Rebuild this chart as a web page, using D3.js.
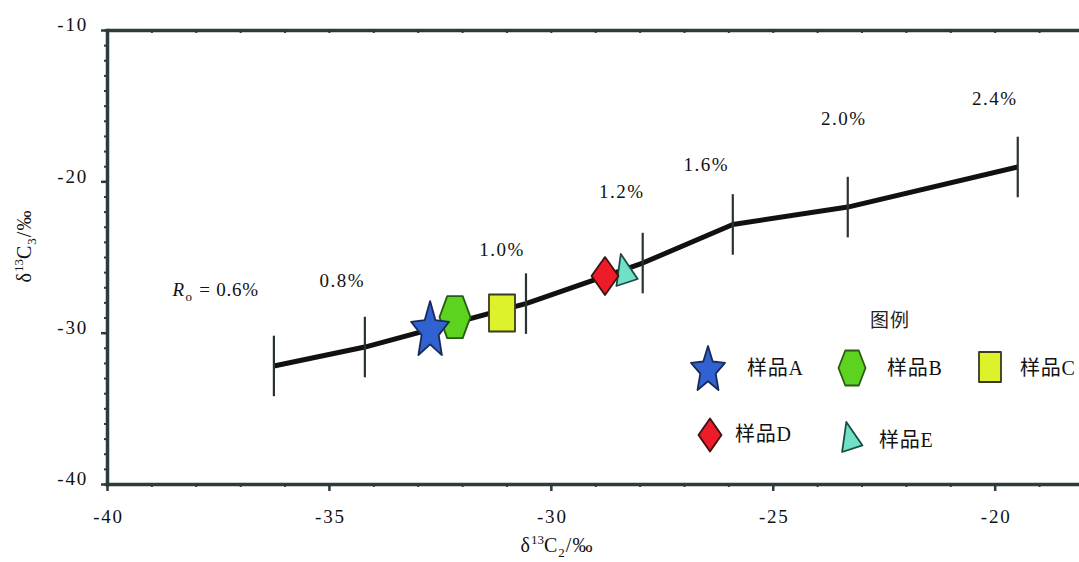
<!DOCTYPE html>
<html>
<head>
<meta charset="utf-8">
<script src="https://cdn.jsdelivr.net/npm/d3@7"></script>
<style>
  body { margin: 0; background: #fff; }
  svg { display: block; }
</style>
</head>
<body>
<script>
// Ro maturity curve (vitrinite reflectance) - points on the curve
const roLabels = ["0.6%", "0.8%", "1.0%", "1.2%", "1.6%", "2.0%", "2.4%"];
const roX = [-36.24, -34.19, -30.56, -27.93, -25.9, -23.31, -19.48];
const roY = [-32.2, -30.95, -28.08, -25.4, -22.85, -21.7, -19.05];
const roErr = [2, 2, 2, 2, 2, 2, 2];
// where the Ro labels sit, in data units
const roLabelX = [-37.55, -34.7, -31.1, -28.4, -26.5, -23.4, -20.0];
const roLabelY = [-27.58, -26.99, -24.94, -21.1, -19.32, -16.28, -14.96];

// samples
const samples = ["样品A", "样品B", "样品C", "样品D", "样品E"];
const sampleX = [-32.72, -32.16, -31.1, -28.78, -28.29];
const sampleY = [-29.7, -28.97, -28.7, -26.26, -25.86];

// axes ticks
const xTicks = [-40, -35, -30, -25, -20];
const yTicks = [-40, -30, -20, -10];

const W = 1079, H = 562;
const serif = "'Liberation Serif','Times New Roman',serif";
const cjk = "'Liberation Serif','Noto Sans CJK SC',serif";
const axisColor = "#2c3b3b";

const svg = d3.select("body").append("svg")
  .attr("width", W)
  .attr("height", H);

const x = d3.scaleLinear().domain([-40, -18.1]).range([107, 1079]);
const y = d3.scaleLinear().domain([-40, -10]).range([484, 30]);

// minor ticks
const xMinor = d3.range(-40, -18, 1);
const yMinor = d3.range(-40, -9, 1);

function styleAxis(g) {
  g.select(".domain").attr("stroke", axisColor).attr("stroke-width", 3.5).attr("stroke-linecap", "square");
  g.selectAll(".tick line").attr("stroke", axisColor).attr("stroke-width", 2.5);
  g.selectAll(".tick text").attr("fill", "#111")
    .style("font-family", serif).style("font-size", "19px").style("letter-spacing", "1.8px");
}

// bottom axis
svg.append("g")
  .attr("transform", "translate(0," + y(-40) + ")")
  .call(d3.axisBottom(x).tickValues(xMinor).tickSize(3).tickSizeOuter(0).tickFormat(""))
  .call(g => g.select(".domain").remove())
  .call(g => g.selectAll(".tick line").attr("stroke", axisColor).attr("stroke-width", 2));
const gx = svg.append("g")
  .attr("transform", "translate(0," + y(-40) + ")")
  .call(d3.axisBottom(x).tickValues(xTicks).tickSize(7).tickSizeOuter(0).tickFormat(d => d));
styleAxis(gx);
gx.selectAll(".tick text").attr("y", 39).attr("dy", null).attr("x", 1);

// left axis
svg.append("g")
  .attr("transform", "translate(" + x(-40) + ",0)")
  .call(d3.axisLeft(y).tickValues(yMinor).tickSize(3).tickSizeOuter(0).tickFormat(""))
  .call(g => g.select(".domain").remove())
  .call(g => g.selectAll(".tick line").attr("stroke", axisColor).attr("stroke-width", 2));
const gy = svg.append("g")
  .attr("transform", "translate(" + x(-40) + ",0)")
  .call(d3.axisLeft(y).tickValues(yTicks).tickSize(6).tickSizeOuter(0).tickFormat(d => d));
styleAxis(gy);
gy.selectAll(".tick text").attr("x", -19).attr("dy", "0.05em");

// top frame line
svg.append("g")
  .attr("transform", "translate(0," + y(-10) + ")")
  .call(d3.axisTop(x).tickValues(xMinor).tickSize(-3).tickSizeOuter(0).tickFormat(""))
  .call(g => g.select(".domain").attr("stroke", axisColor).attr("stroke-width", 3.5))
  .call(g => g.selectAll(".tick line").attr("stroke", axisColor).attr("stroke-width", 2));

// axis titles
function isoTitle(t, sub) {
  t.style("font-family", serif).style("font-size", "20px").style("letter-spacing", "1px").attr("fill", "#111");
  t.append("tspan").text("δ");
  t.append("tspan").attr("dy", -8).style("font-size", "13px").style("letter-spacing", "0px").text("13");
  t.append("tspan").attr("dy", 8).text("C");
  t.append("tspan").attr("dy", 5).style("font-size", "13px").text(sub);
  t.append("tspan").attr("dy", -5).text("/‰");
}
isoTitle(svg.append("text").attr("x", 557).attr("y", 552).attr("text-anchor", "middle"), "2");
isoTitle(svg.append("text").attr("transform", "translate(31,246) rotate(-90)").attr("text-anchor", "middle"), "3");

// Ro curve
const idx = d3.range(roX.length);
svg.append("path")
  .datum(idx)
  .attr("fill", "none")
  .attr("stroke", "#111")
  .attr("stroke-width", 5)
  .attr("stroke-linejoin", "round")
  .attr("d", d3.line().x(i => x(roX[i])).y(i => y(roY[i])));

// error bars
svg.append("g").selectAll("line")
  .data(idx)
  .enter()
  .append("line")
  .attr("x1", i => x(roX[i]))
  .attr("x2", i => x(roX[i]))
  .attr("y1", i => y(roY[i] + roErr[i]))
  .attr("y2", i => y(roY[i] - roErr[i]))
  .attr("stroke", "#2a3333")
  .attr("stroke-width", 2.2);

// Ro labels
const lab = svg.append("g").selectAll("text")
  .data(idx)
  .enter()
  .append("text")
  .attr("x", i => x(roLabelX[i]))
  .attr("y", i => y(roLabelY[i]))
  .attr("text-anchor", "middle")
  .style("font-family", serif)
  .style("font-size", "19px")
  .style("letter-spacing", "1.5px")
  .attr("fill", "#111");
lab.each(function (i) {
  const t = d3.select(this);
  if (i === 0) {
    t.append("tspan").style("font-style", "italic").text("R");
    t.append("tspan").attr("dy", 5).style("font-size", "13px").text("o");
    t.append("tspan").attr("dy", -5).style("letter-spacing", "0.8px").text(" = " + roLabels[i]);
  } else {
    t.text(roLabels[i]);
  }
});

// marker shapes, normalised to a unit bounding box
function starPts() {
  const pts = [];
  for (let k = 0; k < 10; k++) {
    const r = k % 2 === 0 ? 1 : 0.45;
    const a = -Math.PI / 2 + k * Math.PI / 5;
    pts.push([r * Math.cos(a) / 1.902, (r * Math.sin(a) + 0.0955) / 1.809]);
  }
  return pts;
}
const shapes = [
  starPts(),
  [[-0.5, 0], [-0.25, -0.5], [0.25, -0.5], [0.5, 0], [0.25, 0.5], [-0.25, 0.5]],
  [[-0.5, -0.5], [0.5, -0.5], [0.5, 0.5], [-0.5, 0.5]],
  [[0, -0.5], [0.5, 0], [0, 0.5], [-0.5, 0]],
  [[-0.27, -0.5], [0.5, 0.28], [-0.47, 0.5]]
];
const fills = ["#3062d2", "#5cd41f", "#def22b", "#ee1b28", "#70e0c6"];
const strokes = ["#182a5a", "#2b5a12", "#3a3a1e", "#3a1212", "#1e4a46"];
const chartSize = [[38, 54], [31, 42], [26, 37], [27, 38], [22, 32]];
const legendSize = [[34, 44], [27, 35], [22, 30], [23, 33], [21, 30]];

function shapePath(i, cx, cy, sz) {
  return "M" + shapes[i].map(p => (cx + p[0] * sz[0]).toFixed(1) + "," + (cy + p[1] * sz[1]).toFixed(1)).join("L") + "Z";
}

// sample markers on the chart
const order = [4, 3, 2, 1, 0];
svg.append("g").selectAll("path")
  .data(order)
  .enter()
  .append("path")
  .attr("d", i => shapePath(i, x(sampleX[i]), y(sampleY[i]), chartSize[i]))
  .attr("fill", i => fills[i])
  .attr("stroke", i => strokes[i])
  .attr("stroke-width", 1.8)
  .attr("stroke-linejoin", "round");

// legend
const legend = svg.append("g");
legend.append("text")
  .attr("x", 890).attr("y", 327)
  .attr("text-anchor", "middle")
  .style("font-family", "'Noto Sans CJK SC',sans-serif")
  .style("font-size", "19px")
  .style("letter-spacing", "1px")
  .attr("fill", "#222")
  .text("图例");
const legPos = [[708, 368, 747, 375], [852, 368, 887, 375], [990, 367, 1020, 375], [710, 435, 735, 441], [852, 437, 879, 447]];
samples.forEach((s, i) => {
  const p = legPos[i];
  legend.append("path")
    .attr("d", shapePath(i, p[0], p[1], legendSize[i]))
    .attr("fill", fills[i])
    .attr("stroke", strokes[i])
    .attr("stroke-width", 1.8)
    .attr("stroke-linejoin", "round");
  legend.append("text")
    .attr("x", p[2]).attr("y", p[3])
    .style("font-family", cjk)
    .style("font-size", "20px")
    .style("letter-spacing", "0.8px")
    .attr("fill", "#111")
    .text(s);
});
</script>
</body>
</html>
